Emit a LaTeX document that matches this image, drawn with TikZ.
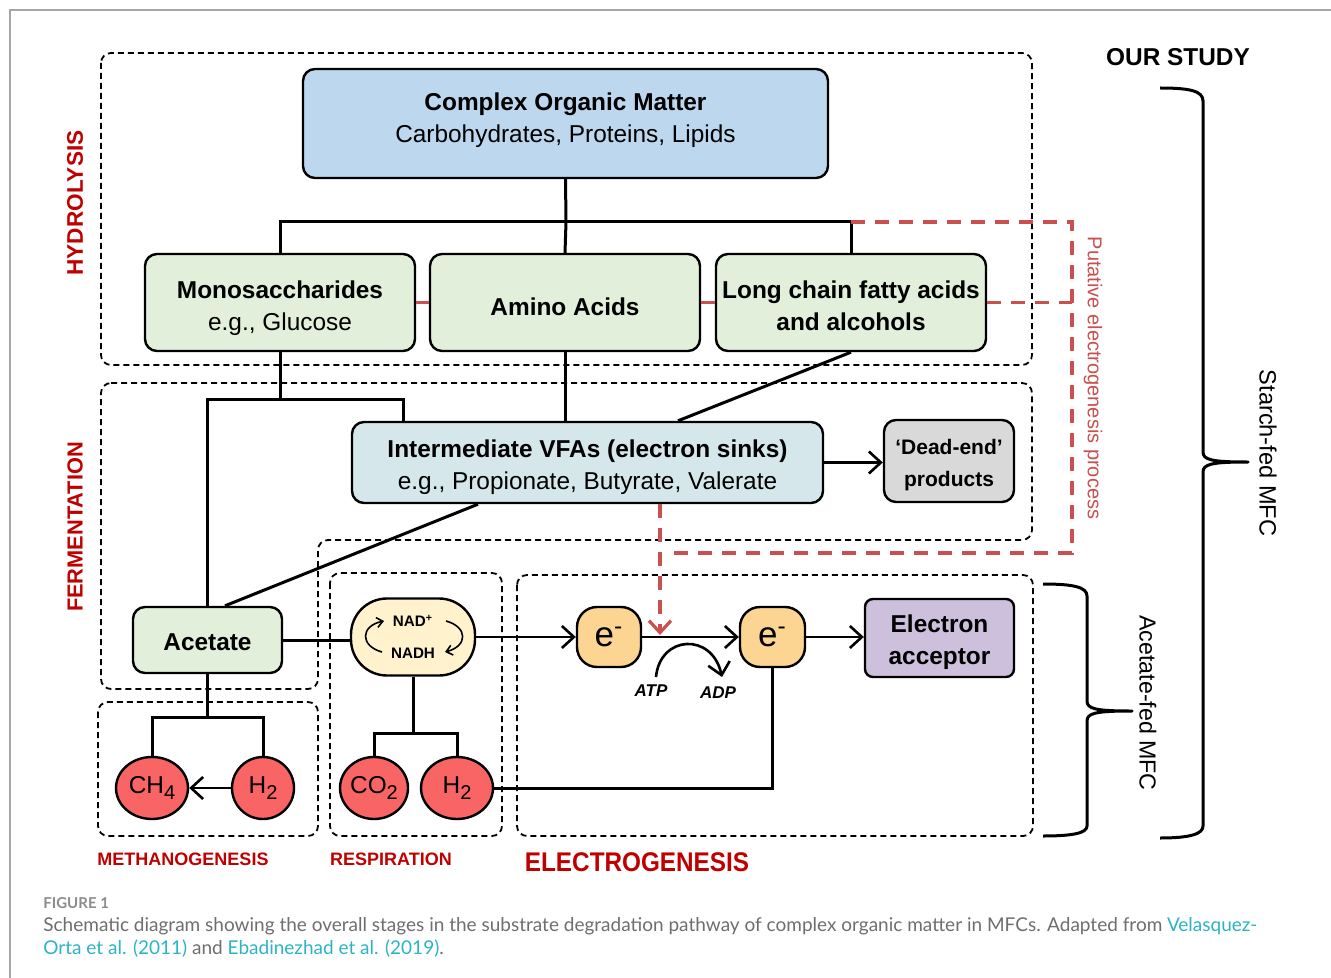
\documentclass[tikz,border=0pt]{standalone}
\usepackage{fontspec}
\usepackage{graphicx}
\setmainfont{Liberation Sans}
\newfontfamily\capfont{Lato}
\usetikzlibrary{arrows.meta,shapes.geometric}
\definecolor{comblue}{HTML}{BDD7EE}
\definecolor{lgreen}{HTML}{E2EFDA}
\definecolor{vfac}{HTML}{D5E7EB}
\definecolor{deadg}{HTML}{D9D9D9}
\definecolor{eorange}{HTML}{FDD592}
\definecolor{nadc}{HTML}{FFF2CC}
\definecolor{accp}{HTML}{CDC0DC}
\definecolor{gasred}{HTML}{F96464}
\definecolor{stagered}{HTML}{C00000}
\definecolor{dashred}{HTML}{C9504E}
\definecolor{capgray}{HTML}{6E6E6E}
\definecolor{figgray}{HTML}{8C8C8C}
\definecolor{linkc}{HTML}{2BB3C6}
\definecolor{framec}{HTML}{A6A6A6}
\newcommand\lowsub[1]{\raisebox{-0.45ex}{\fontsize{10}{10}\selectfont #1}}
\newcommand\fs[1]{\fontsize{#1}{16}\selectfont}
\newcommand\dn[2]{\raisebox{-#1}[\height][\depth]{#2}}
\begin{document}
\begin{tikzpicture}[x=0.5pt,y=-0.5pt,
  wh/.style 2 args={minimum width=#1*0.5pt, minimum height=#2*0.5pt},
  box/.style={draw, line width=1.2pt, rounded corners=6pt, inner sep=0pt, align=center},
  gas/.style={ellipse, draw, line width=1.2pt, fill=gasred, inner sep=0pt, font=\fs{12.2}},
  conn/.style={line width=1.5pt},
  arr/.style={line width=1.3pt, -{Straight Barb[length=6pt,width=11pt,line width=1.3pt]}},
  thinarr/.style={line width=0.8pt, -{Straight Barb[length=3pt,width=5pt,line width=0.8pt]}},
  stage/.style={draw, dash pattern=on 3pt off 2pt, line width=0.9pt, rounded corners=5pt},
  reddash/.style={draw=dashred, dash pattern=on 7pt off 5pt, line width=1.6pt},
  redsolid/.style={draw=dashred, line width=1.6pt},
  stagelab/.style={text=stagered, font=\bfseries\fs{11.3}},
  brace/.style={line width=1.5pt, line join=round}
]
\useasboundingbox (0,0) rectangle (1331,978);
% frame
\draw[framec, line width=0.6pt] (10,978) -- (10,10) -- (1331,10);

% stage boxes
\draw[stage] (101,53) rectangle (1032,365);
\draw[stage] (101,383) -- (1032,383) -- (1032,540) -- (318,540) -- (318,689) -- (101,689) -- cycle;
\draw[stage] (98,702) rectangle (318,836);
\draw[stage] (330,573) rectangle (502,836);
\draw[stage] (517,575) rectangle (1033,836);

% stage labels
\node[stagelab, rotate=90] (hyd) at (75,203) {HYDROLYSIS};
\node[stagelab, rotate=90, font=\bfseries\fs{10.9}] (fer) at (75,527) {FERMENTATION};
\node[stagelab, font=\bfseries\fs{9}] (meth) at (183,859) {METHANOGENESIS};
\node[stagelab, font=\bfseries\fs{9}] (resp) at (391,859) {RESPIRATION};
\node[stagelab, font=\bfseries\fs{13.5}] (elec) at (637,862) {\scalebox{0.9}[1]{ELECTROGENESIS}};

% boxes
\node[box, fill=comblue, wh={525}{109}, font=\fs{12.2}] (com) at (565.5,123.5)
  {\dn{-1.5pt}{\textbf{Complex Organic Matter}}\\\dn{-1.5pt}{Carbohydrates, Proteins, Lipids}};
\node[box, fill=lgreen, wh={270}{97}, font=\fs{12.2}] (mono) at (280,302.5)
  {\dn{3pt}{\textbf{Monosaccharides}}\\\dn{3pt}{e.g., Glucose}};
\node[box, fill=lgreen, wh={270}{97}, font=\bfseries\fs{12.2}] (amino) at (565,302.5) {\dn{2pt}{Amino Acids}};
\node[box, fill=lgreen, wh={270}{97}, font=\bfseries\fs{12.2}] (lcfa) at (851,302.5)
  {\dn{1.5pt}{Long chain fatty acids}\\\dn{1.5pt}{and alcohols}};
\node[box, fill=vfac, wh={471}{81}, font=\fs{12.2}] (vfa) at (587.5,462.5)
  {\dn{2.5pt}{\textbf{Intermediate VFAs (electron sinks)}}\\\dn{2.5pt}{e.g., Propionate, Butyrate, Valerate}};
\node[box, fill=deadg, wh={130}{82}, font=\bfseries\fs{10.5}] (dead) at (949,461)
  {\dn{2pt}{‘Dead-end’}\\\dn{2pt}{products}};
\node[box, fill=lgreen, wh={149}{66}, font=\bfseries\fs{12.2}] (acet) at (207.5,640) {\dn{1pt}{Acetate}};
\node[box, fill=nadc, wh={124}{77}, rounded corners=18pt, font=\bfseries\fs{7.6}] (nad) at (413,637)
  {NAD\textsuperscript{+}\\NADH};
\node[box, fill=eorange, wh={64}{60}, rounded corners=10pt, font=\fs{17.5}] (e1) at (609,637) {e\textsuperscript{-}};
\node[box, fill=eorange, wh={65}{60}, rounded corners=10pt, font=\fs{17.5}] (e2) at (772.5,637) {e\textsuperscript{-}};
\node[box, fill=accp, wh={149}{78}, rounded corners=4pt, font=\bfseries\fs{12.2}] (acc) at (939.5,638)
  {\dn{2pt}{Electron}\\\dn{2pt}{acceptor}};
\node[gas, wh={72}{62}] (ch4) at (152,788) {CH\lowsub{4}};
\node[gas, wh={62}{62}] (h2a) at (263,788) {H\lowsub{2}};
\node[gas, wh={68}{62}] (co2) at (374,788) {CO\lowsub{2}};
\node[gas, wh={72}{62}] (h2b) at (457,788) {H\lowsub{2}};
\node[font=\bfseries\itshape\fs{8.5}] (atp) at (651,691) {ATP};
\node[font=\bfseries\itshape\fs{8.5}] (adp) at (718,693) {ADP};

% helper coordinates
\coordinate (bus) at (566,222);
\coordinate (yf) at (0,399);
\coordinate (x403) at (403,0);
\coordinate (x678) at (678,0);
\coordinate (x478) at (478,0);
\coordinate (x225) at (225,0);
\coordinate (x660) at (660,0);
\coordinate (ym) at (0,717);
\coordinate (yr) at (0,733);
\coordinate (pr1) at (1072,222);
\coordinate (pr3) at (1072,553);
\coordinate (pr4) at (668,553);
\coordinate (redtip) at (660,635);
\coordinate (atpS) at (656,677);
\coordinate (adpE) at (722,677);

% hydrolysis tree
\draw[conn] (com.south) -- (bus);
\draw[conn] (mono.north) |- (lcfa.north |- bus) -- (lcfa.north);
\draw[conn] (bus) -- (amino.north);
\draw[redsolid] (mono.east) -- (amino.west);
\draw[redsolid] (amino.east) -- (lcfa.west);

% putative electrogenesis
\draw[reddash] (lcfa.north |- bus) -- (pr1) -- (pr3) -- (pr4);
\draw[reddash] (lcfa.east) -- (lcfa.east -| pr1);
\draw[reddash, -{Straight Barb[length=6pt,width=11pt,line width=1.6pt]}] (vfa.south -| x660) -- (redtip);
\node[text=dashred, rotate=-90, font=\fs{10}] (put) at (1093,378) {Putative electrogenesis process};

% fermentation
\draw[conn] (mono.south) -- (mono.south |- yf);
\draw[conn] (acet.north) |- (yf -| x403) -- (vfa.north -| x403);
\draw[conn] (amino.south) -- (vfa.north -| amino.south);
\draw[conn] (lcfa.south) -- (vfa.north -| x678);
\draw[conn] (vfa.south -| x478) -- (acet.north -| x225);
\draw[arr] (vfa.east) -- (vfa.east -| dead.west);

% respiration / electrogenesis chain
\draw[conn] (acet.east) -- (acet.east -| nad.west);
\draw[arr] (nad.east) -- (e1.west);
\draw[arr] (e1.east) -- (e2.west);
\draw[arr] (e2.east) -- (e2.east -| acc.west);
\draw[arr] (atpS) .. controls (660,635) and (712,632) .. (adpE);
\draw[thinarr] (382,652) .. controls (360,646) and (360,626) .. (384,621);
\draw[thinarr] (446,621) .. controls (468,627) and (468,646) .. (445,652);
\draw[conn] (e2.south) |- (h2b.east);

% methanogenesis
\draw[conn] (acet.south) -- (acet.south |- ym);
\draw[conn] (ch4.north) |- (h2a.north |- ym) -- (h2a.north);
\draw[arr] (h2a.west) -- (ch4.east);

% respiration products
\draw[conn] (nad.south) -- (nad.south |- yr);
\draw[conn] (co2.north) |- (h2b.north |- yr) -- (h2b.north);

% our study braces
\node[font=\bfseries\fs{12.2}] (our) at (1178,57) {OUR STUDY};
\draw[brace] (1160,88) .. controls (1190,88) and (1203,91) .. (1203,101) -- (1203,452)
  .. controls (1203,460) and (1212,462) .. (1248,462)
  .. controls (1212,462) and (1203,464) .. (1203,472) -- (1203,826)
  .. controls (1203,834) and (1190,838) .. (1160,838);
\node[rotate=-90, font=\fs{11.8}] (starch) at (1268,453) {Starch-fed MFC};
\draw[brace] (1043,584) .. controls (1073,584) and (1087,587) .. (1087,596) -- (1087,701)
  .. controls (1087,709) and (1096,711) .. (1132,711)
  .. controls (1096,711) and (1087,713) .. (1087,721) -- (1087,826)
  .. controls (1087,833) and (1073,836) .. (1043,836);
\node[rotate=-90, font=\fs{11.6}] (acetfed) at (1148,703) {Acetate-fed MFC};

% caption
\node[anchor=west, inner sep=0pt, text=figgray, font=\capfont\bfseries\fontsize{7.5}{9}\selectfont] (fig) at (43,903) {FIGURE 1};
\node[anchor=west, inner sep=0pt, text=capgray, font=\capfont\fontsize{9.5}{11}\selectfont] (cap1) at (43,926)
  {Schematic diagram showing the overall stages in the substrate degradation pathway of complex organic matter in MFCs. Adapted from \textcolor{linkc}{Velasquez-}};
\node[anchor=west, inner sep=0pt, text=capgray, font=\capfont\fontsize{9.5}{11}\selectfont] (cap2) at (43,949)
  {\textcolor{linkc}{Orta et al. (2011)} and \textcolor{linkc}{Ebadinezhad et al. (2019)}.};
\end{tikzpicture}
\end{document}
